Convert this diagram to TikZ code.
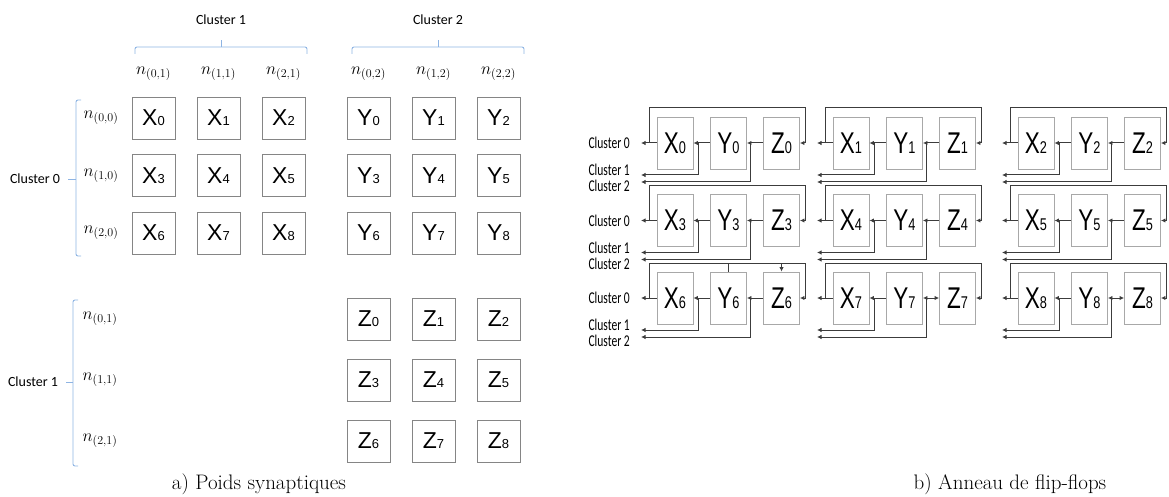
\documentclass[tikz,border=0pt]{standalone}
\usepackage{fontspec}
\newfontfamily\arialf{Liberation Sans}
\newfontfamily\calf{Carlito}
\usetikzlibrary{arrows.meta}
\definecolor{bracec}{HTML}{8EB4E3}
\definecolor{wirec}{HTML}{3C3C3C}
\definecolor{aboxc}{HTML}{858585}
\definecolor{bboxc}{HTML}{A8A8A8}
\newcommand\abl[2]{{\arialf\fontsize{23}{23}\selectfont #1\fontsize{13}{13}\selectfont #2}}
\newcommand\bbl[2]{\scalebox{0.75}[1]{\arialf\fontsize{30}{30}\selectfont #1\fontsize{17}{17}\selectfont #2}}
\newcommand\clab[1]{\scalebox{0.7}[1]{\calf\fontsize{16.5}{16.5}\selectfont #1}}
\newcommand\alab[1]{{\calf\fontsize{14}{14}\selectfont #1}}
\newcommand\nlab[1]{{\fontsize{17}{17}\selectfont $n_{#1}$}}
\begin{document}
\begin{tikzpicture}[x=1pt,y=-1pt,
  abox/.style={draw=aboxc,line width=0.9pt,minimum width=43pt,minimum height=42pt,inner sep=0pt},
  bbox/.style={draw=bboxc,line width=0.9pt,minimum width=36pt,minimum height=52pt,inner sep=0pt},
  wire/.style={draw=wirec,line width=1pt},
  arr/.style={-{Latex[length=4.5pt,width=4.5pt]}},
  arrtwo/.style={{Latex[length=4.5pt,width=4.5pt]}-{Latex[length=4.5pt,width=4.5pt]}},
  bracep/.style={draw=bracec,line width=0.9pt,rounded corners=2pt},
  txt/.style={inner sep=0pt}]
\useasboundingbox (0,0) rectangle (1169,497);
% ---------- (a) ----------
\node[txt] (tc1) at (221,20) {\alab{Cluster 1}};
\node[txt] (tc2) at (438,20) {\alab{Cluster 2}};
\draw[bracep] (135,54) -- (135,47) -- (307,47) -- (307,54);
\draw[bracep] (221,47) -- (221,40);
\draw[bracep] (352,54) -- (352,47) -- (524,47) -- (524,54);
\draw[bracep] (438,47) -- (438,40);
\node[txt] (lc0) at (35,179) {\alab{Cluster 0}};
\draw[bracep] (81,100) -- (76,100) -- (76,256) -- (81,256);
\draw[bracep] (76,179) -- (68,179);
\node[txt] (lc1) at (33,382) {\alab{Cluster 1}};
\draw[bracep] (78,300) -- (73,300) -- (73,466) -- (78,466);
\draw[bracep] (73,382) -- (66,382);
\foreach \c in {0,1,2} {
  \node[txt] (nx\c) at ({153.5+65*\c},74) {\nlab{(\c,1)}};
  \node[txt] (ny\c) at ({368.5+65*\c},74) {\nlab{(\c,2)}};
}
\foreach \r in {0,1,2} {
  \node[txt] (nr\r) at (101,{118+57.5*\r}) {\nlab{(\r,0)}};
  \node[txt] (nz\r) at (100,{319+61*\r}) {\nlab{(\r,1)}};
}
\foreach \i in {0,...,8} {
  \pgfmathtruncatemacro\c{mod(\i,3)}
  \pgfmathtruncatemacro\r{div(\i,3)}
  \node[abox] (ax\i) at ({153.5+65*\c},{118+57.5*\r}) {\abl{X}{\i}};
  \node[abox] (ay\i) at ({368.5+65*\c},{118+57.5*\r}) {\abl{Y}{\i}};
  \node[abox] (az\i) at ({368.5+65*\c},{319+61*\r}) {\abl{Z}{\i}};
}
\node[txt] (capa) at (259,484) {\fontsize{21}{21}\selectfont a) Poids synaptiques};
% ---------- (b) ----------
\foreach \k/\L in {0/657,1/833,2/1018} {
  \foreach \r/\Y in {0/143,1/220.5,2/298} {
    \pgfmathtruncatemacro\n{3*\r+\k}
    \node[bbox] (bx\n) at ({\L+18},\Y) {\bbl{X}{\n}};
    \node[bbox] (by\n) at ({\L+71.5},\Y) {\bbl{Y}{\n}};
    \node[bbox] (bz\n) at ({\L+124.5},\Y) {\bbl{Z}{\n}};
    \coordinate (o\n) at ({\L-16},\Y);
    \coordinate (j\n) at ({\L-8},\Y);
    \coordinate (lt\n) at ({\L-8},{\Y-35});
    \coordinate (rt\n) at ({\L+148.5},{\Y-35});
    \coordinate (ja\n) at ({\L+41},\Y);
    \coordinate (jb\n) at ({\L+93.5},\Y);
    \coordinate (ca\n) at ({\L-16},{\Y+32});
    \coordinate (cb\n) at ({\L-16},{\Y+39});
    \ifnum\n>6
      \draw[wire,arrtwo] (bz\n.west) -- (by\n.east);
    \else
      \draw[wire,arr] (bz\n.west) -- (by\n.east);
    \fi
    \draw[wire,arr] (by\n.west) -- (bx\n.east);
    \draw[wire,arr] (bx\n.west) -- (o\n);
    \draw[wire,arr] (j\n) -- (lt\n) -- (rt\n) |- (bz\n.east);
    \draw[wire,arr] (ja\n) |- (ca\n);
    \draw[wire,arr] (jb\n) |- (cb\n);
  }
}
\draw[wire] (by6.north) -- (by6.north |- lt6);
\draw[wire,arr] (bz6.north |- lt6) -- (bz6.north);
\foreach \r/\Y in {0/143,1/220.5,2/298} {
  \node[txt,anchor=east] (cz\r) at (630,\Y) {\clab{Cluster 0}};
  \node[txt,anchor=east] (co\r) at (630,{\Y+27}) {\clab{Cluster 1}};
  \node[txt,anchor=east] (ct\r) at (630,{\Y+43}) {\clab{Cluster 2}};
}
\node[txt] (capb) at (1010,484) {\fontsize{21}{21}\selectfont b) Anneau de flip-flops};
\end{tikzpicture}
\end{document}
